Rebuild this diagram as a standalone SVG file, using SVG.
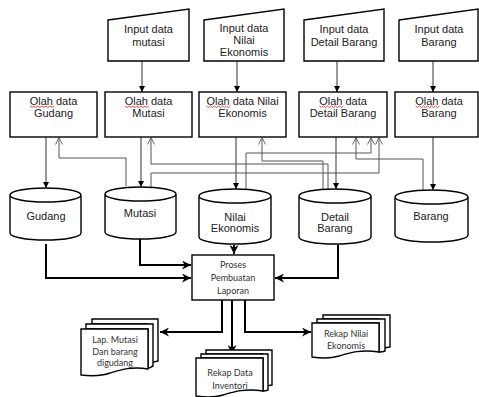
<svg xmlns="http://www.w3.org/2000/svg" xmlns:xlink="http://www.w3.org/1999/xlink" width="479" height="397" viewBox="0 0 479 397">
<style>
.shape{fill:#fff;stroke:#000;stroke-width:1.4}
.t{font-family:"Liberation Sans",Arial,sans-serif;font-size:11px;fill:#222;text-anchor:middle}
.b{font-family:Lato,"Liberation Sans",sans-serif;font-size:9px;fill:#333;text-anchor:middle}
.thin{fill:none;stroke:#333;stroke-width:1}
.gray{fill:none;stroke:#555;stroke-width:1}
.thick{fill:none;stroke:#000;stroke-width:2}
.sq{fill:none;stroke:#e02020;stroke-width:0.8}
</style>
<defs>
<marker id="ah" viewBox="0 0 10 10" refX="10" refY="5" markerWidth="6" markerHeight="6" markerUnits="userSpaceOnUse" orient="auto">
<path d="M0,0 L10,5 L0,10 z" fill="#000"/>
</marker>
<marker id="ao" viewBox="0 0 10 10" refX="10" refY="5" markerWidth="7" markerHeight="8" markerUnits="userSpaceOnUse" orient="auto">
<path d="M0,0 L10,5 L0,10" fill="none" stroke="#555" stroke-width="1.2"/>
</marker>
<marker id="ak" viewBox="0 0 10 10" refX="10" refY="5" markerWidth="9" markerHeight="9" markerUnits="userSpaceOnUse" orient="auto">
<path d="M0,0 L10,5 L0,10 L3,5 z" fill="#000"/>
</marker>
<path id="squig" class="sq" d="M0,0 l2,1.5 l2,-1.5 l2,1.5 l2,-1.5 l2,1.5 l2,-1.5 l2,1.5 l2,-1.5 l2,1.5 l2,-1.5 l2,1.5 l2,-1.5"/>
</defs>

<g id="connectors">
<path class="thin" d="M142,61 V92" marker-end="url(#ah)"/>
<path class="thin" d="M237,61 V92" marker-end="url(#ah)"/>
<path class="thin" d="M337,61 V92" marker-end="url(#ah)"/>
<path class="thin" d="M433,61 V92" marker-end="url(#ah)"/>
<path class="thin" d="M46,137 V188" marker-end="url(#ah)"/>
<path class="thin" d="M141,137 V187" marker-end="url(#ah)"/>
<path class="thin" d="M236,137 V189" marker-end="url(#ah)"/>
<path class="thin" d="M336,137 V189" marker-end="url(#ah)"/>
<path class="thin" d="M433,137 V190" marker-end="url(#ah)"/>
<path class="gray" stroke="#777" d="M126,186 V158 H59 V137.5" marker-end="url(#ao)"/>
<path class="gray" d="M328,189 V164 H151 V137.5" marker-end="url(#ao)"/>
<path class="gray" d="M151,187 V173 H379 V137.5" marker-end="url(#ao)"/>
<path class="gray" d="M246,189 V153 H371 V137.5" marker-end="url(#ao)"/>
<path class="gray" d="M323,189 V161 H262 V137.5" marker-end="url(#ao)"/>
<path class="gray" d="M423,190 V159 H356 V137.5" marker-end="url(#ao)"/>
<path class="thick" d="M46,244 V278 H191" marker-end="url(#ak)"/>
<path class="thick" d="M140,239 V265 H191" marker-end="url(#ak)"/>
<path class="thick" d="M234,245 V254" marker-end="url(#ak)"/>
<path class="thick" d="M338,245 V278 H275" marker-end="url(#ak)"/>
<path class="thick" d="M222,300 V332 H160" marker-end="url(#ak)"/>
<path class="thick" d="M232,300 V354" marker-end="url(#ak)"/>
<path class="thick" d="M245,300 V332 H311" marker-end="url(#ak)"/>
</g>

<g id="in-mutasi">
<path class="shape" d="M108,20 L189,9 V61 H108 Z"/>
<text class="t" x="148.5" y="33">Input data</text>
<text class="t" x="148.5" y="46">mutasi</text>
</g>
<g id="in-nilai">
<path class="shape" d="M204,20 L284,9 V61 H204 Z"/>
<text class="t" x="244" y="32">Input data</text>
<text class="t" x="244" y="44">Nilai</text>
<text class="t" x="244" y="56">Ekonomis</text>
</g>
<g id="in-detail">
<path class="shape" d="M304,20 L384,9 V61 H304 Z"/>
<text class="t" x="344" y="33">Input data</text>
<text class="t" x="344" y="46">Detail Barang</text>
</g>
<g id="in-barang">
<path class="shape" d="M399,20 L478,9 V61 H399 Z"/>
<text class="t" x="439" y="33">Input data</text>
<text class="t" x="439" y="46">Barang</text>
</g>

<g id="olah-gudang">
<rect class="shape" x="10" y="92" width="87" height="45"/>
<text class="t" x="53.5" y="105">Olah data</text>
<text class="t" x="53.5" y="117">Gudang</text>
<use xlink:href="#squig" x="30" y="106"/>
</g>
<g id="olah-mutasi">
<rect class="shape" x="105" y="92" width="87" height="45"/>
<text class="t" x="148.5" y="105">Olah data</text>
<text class="t" x="148.5" y="117">Mutasi</text>
<use xlink:href="#squig" x="125" y="106"/>
</g>
<g id="olah-nilai">
<rect class="shape" x="199" y="92" width="87" height="45"/>
<text class="t" x="242.5" y="105">Olah data Nilai</text>
<text class="t" x="242.5" y="117">Ekonomis</text>
<use xlink:href="#squig" x="206.5" y="106"/>
</g>
<g id="olah-detail">
<rect class="shape" x="299" y="92" width="88" height="45"/>
<text class="t" x="343" y="105">Olah data</text>
<text class="t" x="343" y="117">Detail Barang</text>
<use xlink:href="#squig" x="319.5" y="106"/>
</g>
<g id="olah-barang">
<rect class="shape" x="395" y="92" width="83" height="45"/>
<text class="t" x="439" y="105">Olah data</text>
<text class="t" x="439" y="117">Barang</text>
<use xlink:href="#squig" x="415.5" y="106"/>
</g>

<g id="db-gudang">
<path class="shape" d="M10,195 V233 A35.5,7 0 0 0 81,233 V195 A35.5,7 0 0 0 10,195 A35.5,7 0 0 0 81,195"/>
<text class="t" x="46" y="220">Gudang</text>
</g>
<g id="db-mutasi">
<path class="shape" d="M105,194 V232 A35.5,7 0 0 0 176,232 V194 A35.5,7 0 0 0 105,194 A35.5,7 0 0 0 176,194"/>
<text class="t" x="140" y="217">Mutasi</text>
</g>
<g id="db-nilai">
<path class="shape" d="M199,196 V237 A36,7 0 0 0 271,237 V196 A36,7 0 0 0 199,196 A36,7 0 0 0 271,196"/>
<text class="t" x="235" y="221">Nilai</text>
<text class="t" x="235" y="232">Ekonomis</text>
</g>
<g id="db-detail">
<path class="shape" d="M299,196 V237 A36,7 0 0 0 371,237 V196 A36,7 0 0 0 299,196 A36,7 0 0 0 371,196"/>
<text class="t" x="335" y="221">Detail</text>
<text class="t" x="335" y="232">Barang</text>
</g>
<g id="db-barang">
<path class="shape" d="M395,197 V235 A36.5,7 0 0 0 468,235 V197 A36.5,7 0 0 0 395,197 A36.5,7 0 0 0 468,197"/>
<text class="t" x="431" y="220">Barang</text>
</g>

<g id="proses">
<rect class="shape" x="192" y="255" width="82" height="45"/>
<text class="b" x="233" y="268">Proses</text>
<text class="b" x="233" y="281">Pembuatan</text>
<text class="b" x="233" y="294">Laporan</text>
</g>

<g id="doc-lap">
<path class="shape" d="M92,319 H158 V361 C153,362 151,363 148,363 V324 H92 Z"/>
<path class="shape" d="M86,324 H153 V366 C151,367 150,368 148,368 V329 H86 Z"/>
<path class="shape" d="M81,329 H148 V369 C132,366 120,370 110,373 C99,377 89,376 81,375 Z"/>
<text class="b" x="115" y="343">Lap. Mutasi</text>
<text class="b" x="115" y="355">Dan barang</text>
<text class="b" x="115" y="366">digudang</text>
</g>
<g id="doc-inv">
<path class="shape" d="M206,350 H272 V385 C268,386 266,386 263,386 V354 H206 Z"/>
<path class="shape" d="M201,354 H268 V390 C266,391 265,391 263,391 V358 H201 Z"/>
<path class="shape" d="M196,358 H263 V391 C245,388 233,392 223,395 C213,398 203,397 196,396 Z"/>
<text class="b" x="230" y="376">Rekap Data</text>
<text class="b" x="230" y="389">Inventori</text>
</g>
<g id="doc-nilai">
<path class="shape" d="M323,315 H390 V347 C386,348 382,348 379,348 V319 H323 Z"/>
<path class="shape" d="M317,319 H385 V351 C383,352 381,352 379,352 V323 H317 Z"/>
<path class="shape" d="M312,323 H379 V352 C361,349 349,353 339,356 C329,359 319,358 312,357 Z"/>
<text class="b" x="346" y="337">Rekap Nilai</text>
<text class="b" x="346" y="349">Ekonomis</text>
</g>
</svg>
